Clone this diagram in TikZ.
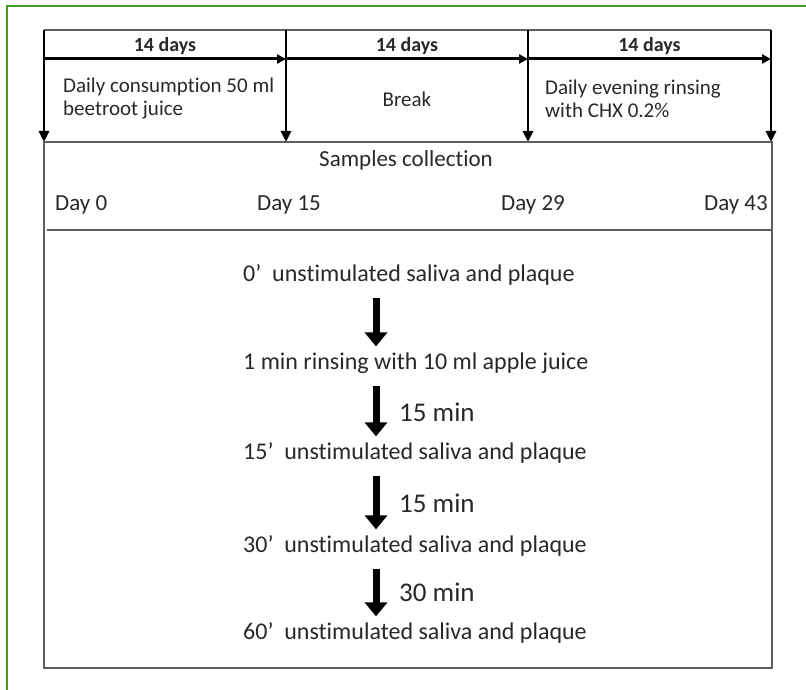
\documentclass[tikz,border=0pt]{standalone}
\usepackage{fontspec}
\setmainfont{Carlito}[Ligatures=NoCommon]
\usepackage{tikz}
\usetikzlibrary{arrows.meta, positioning, calc}

\definecolor{framegreen}{RGB}{70,150,40}
\definecolor{txtgray}{RGB}{40,40,40}
\definecolor{linegray}{RGB}{95,95,95}

\tikzset{
  boxline/.style={draw=linegray, line width=2pt},
  dayarrow/.style={line width=2.8pt, -{Triangle[length=11pt,width=10pt]}},
  periodarrow/.style={line width=3pt, -{Triangle[length=9pt,width=9pt]}},
  flowarrow/.style={line width=7pt, -{Triangle[length=14pt,width=22pt]},
    shorten <=12pt, shorten >=6pt},
  period/.style={font=\fontsize{20}{22}\selectfont\bfseries, text=txtgray, inner sep=0pt},
  celltext/.style={font=\fontsize{21}{23}\selectfont, text=txtgray, align=left,
    inner sep=0pt, anchor=west},
  daytext/.style={font=\fontsize{23}{25}\selectfont, text=txtgray, inner sep=0pt},
  flowtext/.style={font=\fontsize{24}{26}\selectfont, text=txtgray, inner sep=0pt, anchor=west},
  steplabel/.style={font=\fontsize{27}{29}\selectfont, text=txtgray, inner sep=0pt, anchor=west}
}

\begin{document}
\begin{tikzpicture}[x=1pt,y=-1pt]
\useasboundingbox (0,0) rectangle (806,690);
\draw[framegreen, line width=1.5pt] (806,6) -- (7,6) -- (7,690);

% time line on top
\foreach \i/\x in {0/44,1/286,2/528,3/771} {
  \coordinate (t\i) at (\x,30);
  \coordinate (h\i) at (\x,59);
  \coordinate (b\i) at (\x,142);
}
\coordinate (boxbr) at (772,668);
\coordinate (rulel) at (47,230);
\coordinate (ruler) at (772,230);

\draw[boxline] (t0) -- (t3);
\draw[boxline] (b0) rectangle (boxbr);
\draw[boxline, line width=1.5pt] (rulel) -- (ruler);

\foreach \i in {0,...,3}
  \draw[dayarrow] (t\i) -- (b\i);
\foreach \i/\j in {0/1,1/2,2/3} {
  \draw[periodarrow] (h\i) -- (h\j);
  \node[period] (p\i) at ($(h\i)!0.5!(h\j)+(0,-13)$) {14 days};
}

\node[celltext] (c0) at (63,99) {Daily consumption 50 ml\\beetroot juice};
\node[celltext, anchor=center] (c1) at (407,99) {Break};
\node[celltext] (c2) at (545,99) {Daily evening rinsing\\with CHX 0.2\%};

% sampling days
\node[daytext] (samples) at (406,160) {Samples collection};
\node[daytext, anchor=west] (d0) at (55,205) {Day 0};
\node[daytext] (d15) at (289,205) {Day 15};
\node[daytext] (d29) at (533,205) {Day 29};
\node[daytext, anchor=east] (d43) at (768,205) {Day 43};

% sampling steps
\node[flowtext] (s0) at (243,275) {0’~ unstimulated saliva and plaque};
\node[flowtext] (s1) at (243,363) {1 min rinsing with 10 ml apple juice};
\node[flowtext] (s2) at (243,453) {15’~ unstimulated saliva and plaque};
\node[flowtext] (s3) at (243,546) {30’~ unstimulated saliva and plaque};
\node[flowtext] (s4) at (243,633) {60’~ unstimulated saliva and plaque};
\coordinate (ax) at (376,0);

\foreach \i/\j in {0/1,1/2,2/3,3/4}
  \draw[flowarrow] (s\i.south -| ax) -- (s\j.north -| ax);

\node[steplabel] (l1) at (399,412) {15 min};
\node[steplabel] (l2) at (399,503) {15 min};
\node[steplabel] (l3) at (399,592) {30 min};
\end{tikzpicture}
\end{document}
